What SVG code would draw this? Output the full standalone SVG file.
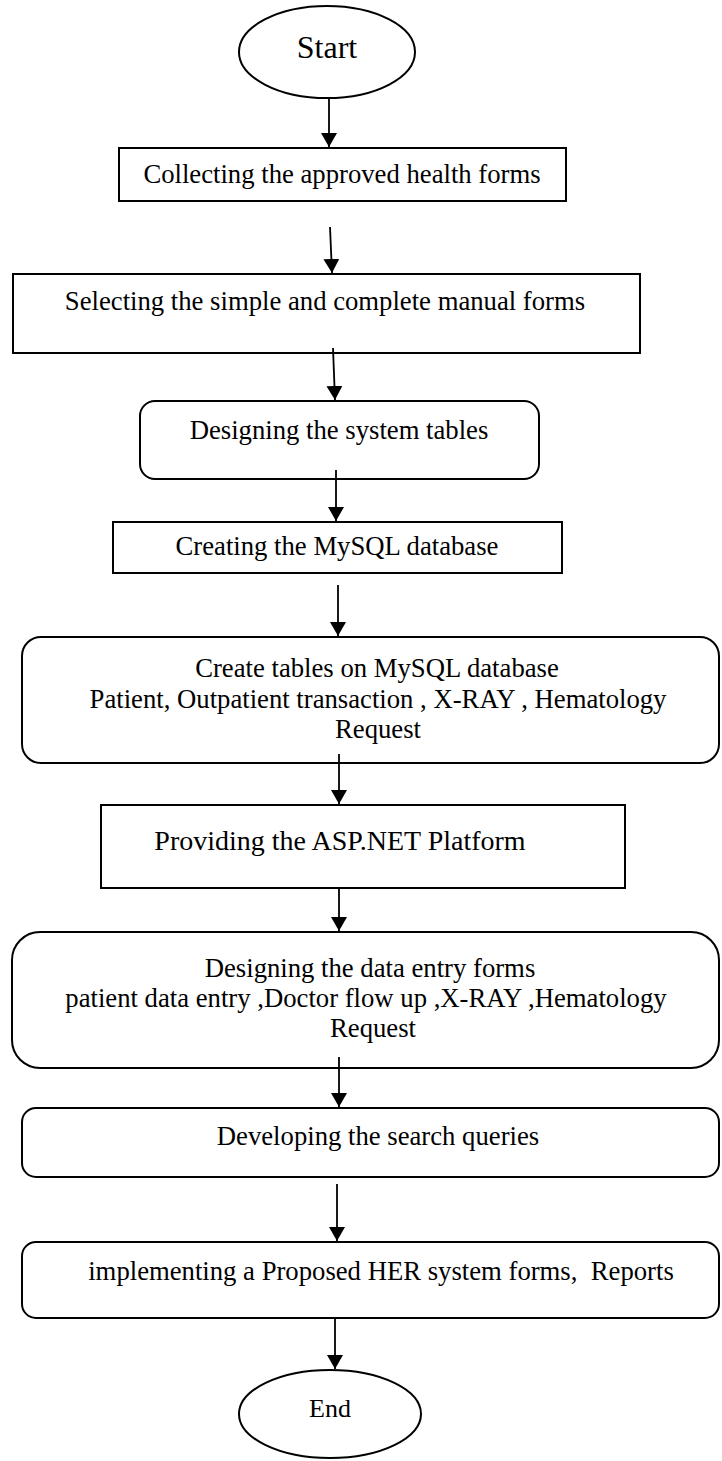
<svg xmlns="http://www.w3.org/2000/svg" width="722" height="1461" viewBox="0 0 722 1461">
<defs>
<style>
.s{fill:#fff;stroke:#000;stroke-width:2}
.t{font-family:"Liberation Serif","Times New Roman",serif;font-size:26.7px;fill:#000;text-anchor:middle;white-space:pre}
.c{stroke:#000;stroke-width:1.8;fill:none;marker-end:url(#ah)}
</style>
<marker id="ah" markerWidth="16" markerHeight="16" refX="14" refY="8" orient="auto" markerUnits="userSpaceOnUse">
<path d="M0,0 L14,8 L0,16 Z" fill="#000"/>
</marker>
</defs>
<rect width="722" height="1461" fill="#fff"/>
<g id="start"><ellipse class="s" cx="327" cy="52" rx="88" ry="46"/><text class="t" x="327" y="58" style="font-size:32px">Start</text></g>
<g id="n1"><rect class="s" x="119" y="148" width="447" height="53"/><text class="t" x="342" y="183">Collecting the approved health forms</text></g>
<g id="n2"><rect class="s" x="13" y="274" width="627" height="79"/><text class="t" x="325" y="310">Selecting the simple and complete manual forms</text></g>
<g id="n3"><rect class="s" x="140" y="401" width="399" height="78" rx="15"/><text class="t" x="339" y="439">Designing the system tables</text></g>
<g id="n4"><rect class="s" x="113" y="522" width="449" height="51"/><text class="t" x="337" y="555">Creating the MySQL database</text></g>
<g id="n5"><rect class="s" x="22" y="637" width="697" height="126" rx="19"/><text class="t" x="377" y="677">Create tables on MySQL database</text><text class="t" x="378" y="708">Patient, Outpatient transaction , X-RAY , Hematology</text><text class="t" x="378" y="738">Request</text></g>
<g id="n6"><rect class="s" x="101" y="805" width="524" height="83"/><text class="t" x="340" y="850" style="font-size:28px">Providing the ASP.NET Platform</text></g>
<g id="n7"><rect class="s" x="12" y="932" width="707" height="136" rx="28"/><text class="t" x="370" y="977">Designing the data entry forms</text><text class="t" x="366" y="1007">patient data entry ,Doctor flow up ,X-RAY ,Hematology</text><text class="t" x="373" y="1037">Request</text></g>
<g id="n8"><rect class="s" x="22" y="1108" width="697" height="69" rx="14"/><text class="t" x="378" y="1145">Developing the search queries</text></g>
<g id="n9"><rect class="s" x="22" y="1242" width="697" height="76" rx="14"/><text class="t" x="381" y="1280">implementing a Proposed HER system forms,  Reports</text></g>
<g id="end"><ellipse class="s" cx="330" cy="1414" rx="91" ry="44"/><text class="t" x="330" y="1417" style="font-size:26px">End</text></g>
<g id="connectors">
<line class="c" x1="329" y1="98" x2="329" y2="147"/>
<line class="c" x1="330" y1="227" x2="332" y2="273"/>
<line class="c" x1="333" y1="348" x2="335" y2="400"/>
<line class="c" x1="336" y1="470" x2="336" y2="521"/>
<line class="c" x1="338" y1="585" x2="338" y2="636"/>
<line class="c" x1="339" y1="754" x2="339" y2="804"/>
<line class="c" x1="339" y1="888" x2="339" y2="931"/>
<line class="c" x1="339" y1="1057" x2="339" y2="1107"/>
<line class="c" x1="337" y1="1184" x2="337" y2="1241"/>
<line class="c" x1="335" y1="1318" x2="335" y2="1369"/>
</g>
</svg>
